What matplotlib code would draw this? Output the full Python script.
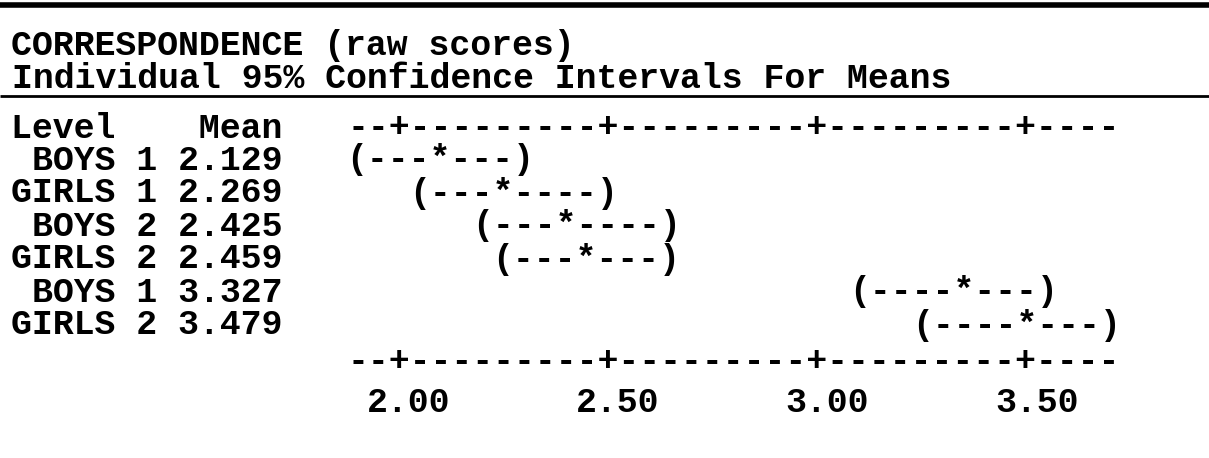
import matplotlib
matplotlib.use("Agg")
import matplotlib.pyplot as plt

# ---- data ----
title_lines = ["CORRESPONDENCE (raw scores)",
               "Individual 95% Confidence Intervals For Means"]
header_level = "Level"
header_mean = "Mean"
levels = ["BOYS 1", "GIRLS 1", "BOYS 2", "GIRLS 2", "BOYS 1", "GIRLS 2"]
means = [2.129, 2.269, 2.425, 2.459, 3.327, 3.479]
ci_lower = [1.93, 2.07, 2.22, 2.27, 3.10, 3.24]
ci_upper = [2.32, 2.50, 2.65, 2.65, 3.53, 3.68]
tick_values = [2.00, 2.50, 3.00, 3.50]
tick_labels = ["2.00", "2.50", "3.00", "3.50"]
axis_range = [1.92, 3.68]

# ---- layout (character-mode output) ----
W, H, DPI = 1209, 458, 100
PITCH = 20.95          # px per character cell
COL0 = 20.9            # px, centre of first character column
CHARS_PER_UNIT = 20.5  # character cells per data unit
CHAR_OFFSET = 1.6
AXIS_COL = 16          # column where the scale starts

Y_TITLE = [46, 79]
Y_HEADER = 128
Y_ROW0, DY_ROW = 160, 33
Y_AXIS_BOTTOM = 362
Y_TICKLABEL = 403
Y_TOP_RULE = 5
Y_UNDERLINE = 96


def col_of(x):
    return AXIS_COL + CHARS_PER_UNIT * (x - 2.0) + CHAR_OFFSET


def x_of(col):
    return 2.0 + (col - AXIS_COL - CHAR_OFFSET) / CHARS_PER_UNIT


def snap(x):
    return int(round(col_of(x)))


fig = plt.figure(figsize=(W / DPI, H / DPI), dpi=DPI)
fig.patch.set_facecolor("white")
ax = fig.add_axes([0, 0, 1, 1])
ax.set_xlim(x_of((0 - COL0) / PITCH), x_of((W - COL0) / PITCH))
ax.set_ylim(H, 0)
ax.axis("off")

font = dict(family=["Liberation Mono", "DejaVu Sans Mono"], weight="bold",
            size=PITCH / 0.6 * 72 / DPI, color="black")


def put(col_first, text, y):
    n_lead = len(text) - len(text.lstrip(" "))
    col_first += n_lead
    text = text.strip(" ")
    centre = col_first + (len(text) - 1) / 2
    ax.text(x_of(centre), y, text, ha="center", va="center", **font)


# rules
ax.plot([0, 1], [Y_TOP_RULE, Y_TOP_RULE], transform=ax.get_yaxis_transform(),
        color="black", lw=4.0, solid_capstyle="butt")
ax.plot([0, 1], [Y_UNDERLINE, Y_UNDERLINE], transform=ax.get_yaxis_transform(),
        color="black", lw=2.0, solid_capstyle="butt")

# titles
for t, y in zip(title_lines, Y_TITLE):
    put(0, t, y)

# scale lines
lo_c, hi_c = snap(axis_range[0]), snap(axis_range[1])
tick_cols = {snap(t) for t in tick_values}
axis_str = "".join("+" if c in tick_cols else "-" for c in range(lo_c, hi_c + 1))

header = f"{header_level:<9}{header_mean}"
put(0, header, Y_HEADER)
put(lo_c, axis_str, Y_HEADER)
put(lo_c, axis_str, Y_AXIS_BOTTOM)

# rows
for i, (lvl, m, lo, hi) in enumerate(zip(levels, means, ci_lower, ci_upper)):
    y = Y_ROW0 + i * DY_ROW
    put(0, f"{lvl:>7} {m:.3f}", y)
    cl, cm, ch = snap(lo), snap(m), snap(hi)
    s = "(" + "-" * (cm - cl - 1) + "*" + "-" * (ch - cm - 1) + ")"
    put(cl, s, y)

# tick labels
for t, lab in zip(tick_values, tick_labels):
    put(snap(t) - 1, lab, Y_TICKLABEL)

fig.savefig("out.png", dpi=DPI, facecolor="white")
